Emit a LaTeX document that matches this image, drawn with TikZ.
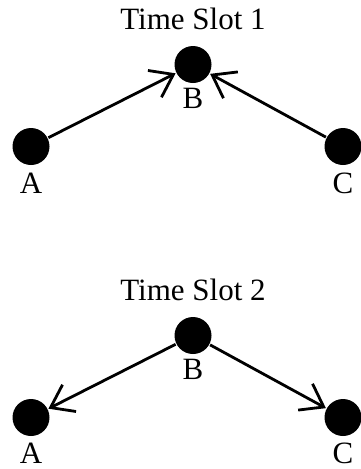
\documentclass[tikz,border=0pt]{standalone}
\usepackage{fontspec}
\setmainfont{Liberation Serif}
\usetikzlibrary{arrows.meta}
\begin{document}
\begin{tikzpicture}[x=1pt, y=-1pt, node distance=46pt,
  every node/.style={font=\fontsize{31}{37}\selectfont},
  every label/.style={inner sep=0pt},
  dot/.style={circle, fill=black, minimum size=37pt, inner sep=0pt, outer sep=1pt},
  link/.style={line width=2.8pt, -{Straight Barb[length=21pt, width=30pt]}}]
    \useasboundingbox (0,0) rectangle (361,469);
    % Time slot 1
    \node (T1) at (193,18.5) {Time Slot 1};
    \node (B1) [below of=T1, dot, label={[label distance=4pt]below:B}] {};
    \node (A1) [left of=B1, xshift=-116pt, yshift=-82pt, dot, label={[label distance=7pt]below:A}] {};
    \node (C1) [right of=B1, xshift=104pt, yshift=-82pt, dot, label={[label distance=7pt]below:C}] {};
    % Time slot 2
    \node (T2) [below of=T1, yshift=-225pt] {Time Slot 2};
    \node (B2) [below of=T2, dot, label={[label distance=4pt]below:B}] {};
    \node (A2) [left of=B2, xshift=-116pt, yshift=-82pt, dot, label={[label distance=6pt]below:A}] {};
    \node (C2) [right of=B2, xshift=104pt, yshift=-82pt, dot, label={[label distance=6pt]below:C}] {};

    % Arrows
    \draw[link] (A1) -- (B1);
    \draw[link] (C1) -- (B1);
    \draw[link] (B2) -- (A2);
    \draw[link] (B2) -- (C2);
\end{tikzpicture}
\end{document}
